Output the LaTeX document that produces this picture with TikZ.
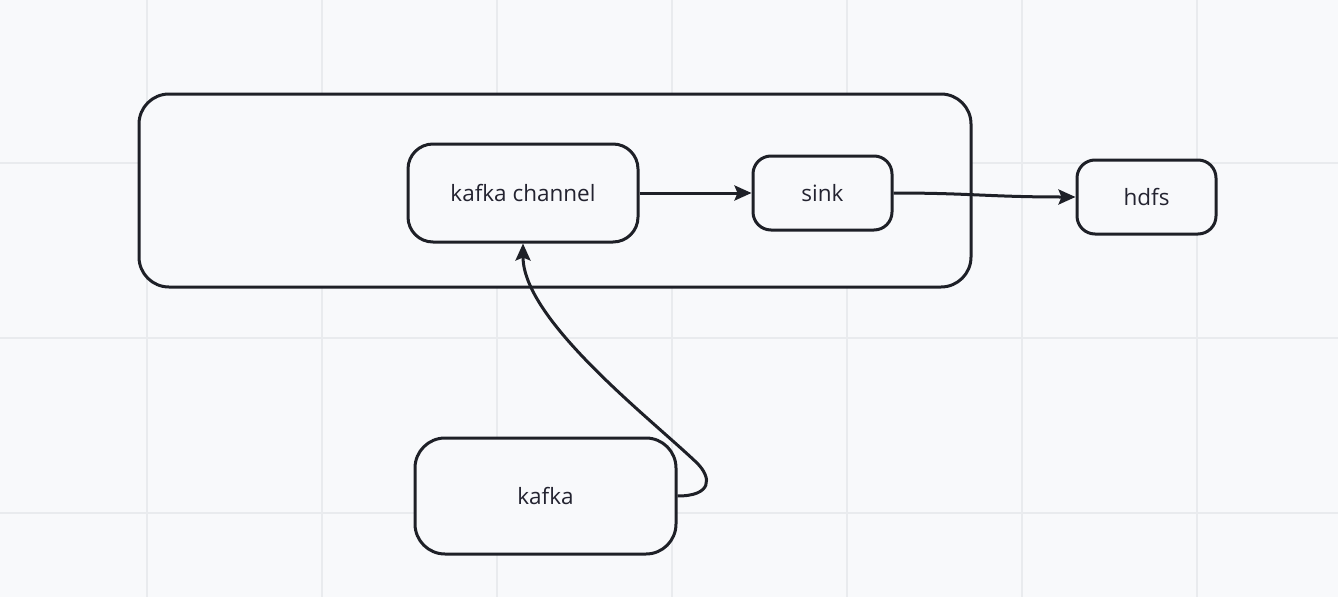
\documentclass[tikz,border=0pt]{standalone}
\usepackage{fontspec}
\setmainfont{Open Sans}
\usetikzlibrary{arrows.meta}
\definecolor{bgc}{HTML}{F8F9FB}
\definecolor{gridc}{HTML}{E9EBEE}
\definecolor{ink}{HTML}{1E2027}
\definecolor{txt}{HTML}{232330}
\begin{document}
\begin{tikzpicture}[x=1pt,y=-1pt,
  boxstyle/.style={draw=ink, line width=3pt, fill=bgc, rectangle, inner sep=0pt,
    text=txt, font=\fontsize{22.5}{27}\selectfont},
  conn/.style={draw=ink, line width=3pt, -{Stealth[length=17pt,width=15pt,inset=3pt]}},
  gridline/.style={draw=gridc, line width=1.5pt}]
\fill[bgc] (0,0) rectangle (1338,597);
\useasboundingbox (0,0) rectangle (1338,597);
\foreach \gx in {147,322,497,672,847,1022,1197} \draw[gridline] (\gx,0) -- (\gx,597);
\foreach \gy in {163,338,513} \draw[gridline] (0,\gy) -- (1338,\gy);
\node[boxstyle, minimum width=832pt, minimum height=193pt, rounded corners=30pt] (outer) at (555,190.5) {};
\node[boxstyle, minimum width=230pt, minimum height=98pt, rounded corners=25pt] (chan) at (523,193) {\raisebox{-1.5pt}{kafka channel}};
\node[boxstyle, minimum width=139pt, minimum height=74pt, rounded corners=18pt] (sink) at (822.5,193) {\raisebox{-1.5pt}{sink}};
\node[boxstyle, minimum width=139pt, minimum height=74pt, rounded corners=18pt] (hdfs) at (1146.5,197) {\raisebox{-1.5pt}{hdfs}};
\node[boxstyle, minimum width=261pt, minimum height=116pt, rounded corners=30pt] (kafka) at (545.5,496) {\raisebox{-1.5pt}{kafka}};
\coordinate (bend) at (697,463);
\draw[conn] (chan.east) -- (sink.west);
\draw[conn] (sink.east) .. controls (970,193) and (990,197) .. (hdfs.west);
\draw[conn] (kafka.east) .. controls (712,496) and (712,478) .. (bend)
  .. controls (650,418) and (523,320) .. (chan.south);
\end{tikzpicture}
\end{document}
